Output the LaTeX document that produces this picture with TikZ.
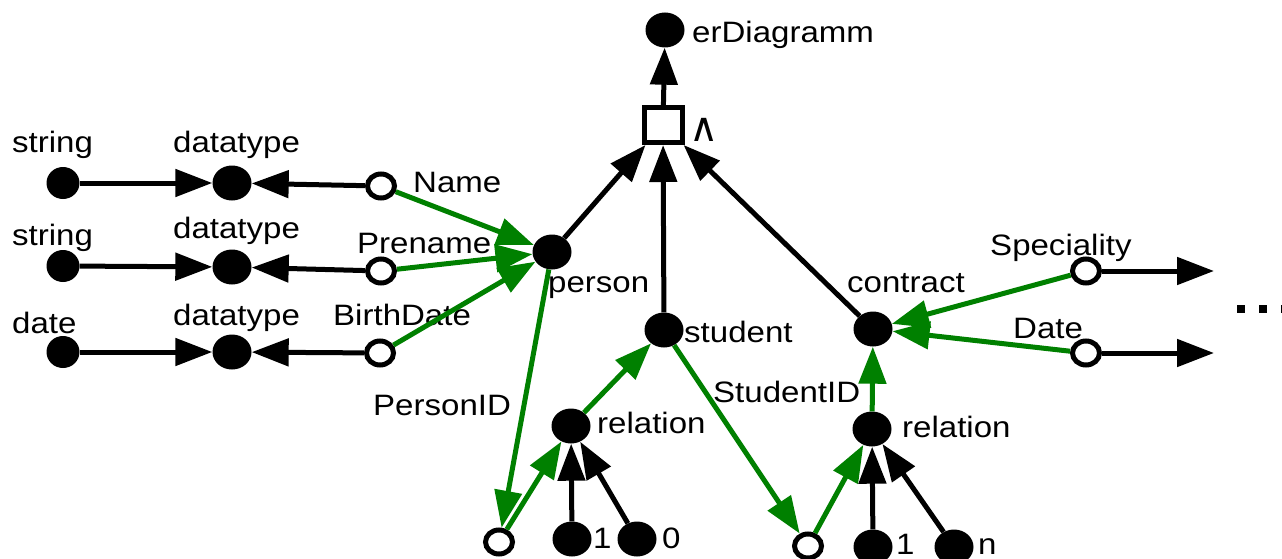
\documentclass[tikz,border=0pt]{standalone}
\usepackage{fontspec}
\newfontfamily\lbfont{Liberation Sans}[FakeStretch=1.12]
\newfontfamily\djv{DejaVu Sans}
\usetikzlibrary{arrows.meta,shapes.geometric}
\definecolor{gr}{RGB}{0,128,0}
\begin{document}
\begin{tikzpicture}[x=1pt,y=-1pt,
  big/.style={ellipse,fill=black,inner sep=0pt,minimum width=39pt,minimum height=35pt},
  small/.style={ellipse,fill=black,inner sep=0pt,minimum width=33pt,minimum height=32pt},
  open/.style={ellipse,draw=black,fill=white,line width=5pt,inner sep=0pt,minimum width=27pt,minimum height=24pt},
  andbox/.style={rectangle,draw=black,line width=5pt,inner sep=0pt,minimum width=38pt,minimum height=35pt},
  lbl/.style={inner sep=0pt,anchor=base west,font=\lbfont\fontsize{29.5}{32}\selectfont},
  blk/.style={draw=black,line width=5pt,-{Triangle[length=37pt,width=27pt]}},
  grn/.style={blk,draw=gr},
  dotsq/.style={fill=black,inner sep=0pt,minimum size=8pt,rectangle}
]
\useasboundingbox (0,0) rectangle (1282,559);
% top
\node[big] (erd) at (665,30) {};
\node[lbl] (erdl) at (692,43) {erDiagramm};
\node[andbox] (and) at (663,125) {};
\node[inner sep=0pt,font=\djv\fontsize{40}{44}\selectfont] (andl) at (704,130) {∧};
\node[big] (person) at (552,252) {};
\node[lbl] (personl) at (548,292) {person};
\node[big] (student) at (664,330) {};
\node[lbl] (studentl) at (684,342) {student};
\node[big] (contract) at (873,329) {};
\node[lbl] (contractl) at (847,292) {contract};
% left rows
\node[small] (s1) at (63,183) {};
\node[big] (d1) at (232,183) {};
\node[open] (o1) at (381,186) {};
\node[small] (s2) at (63,266) {};
\node[big] (d2) at (232,267) {};
\node[open] (o2) at (381,271) {};
\node[small] (s3) at (63,352) {};
\node[big] (d3) at (232,352) {};
\node[open] (o3) at (380,353) {};
\node[lbl] (s1l) at (12,153) {string};
\node[lbl] (d1l) at (173,153) {datatype};
\node[lbl] (o1l) at (413,192) {Name};
\node[lbl] (s2l) at (12,245) {string};
\node[lbl] (d2l) at (173,238) {datatype};
\node[lbl] (o2l) at (357,253) {Prename};
\node[lbl] (s3l) at (12,333) {date};
\node[lbl] (d3l) at (173,325) {datatype};
\node[lbl] (o3l) at (333,325) {BirthDate};
% bottom
\node[open] (pid) at (499,542) {};
\node[lbl] (pidl) at (373,415) {PersonID};
\node[big] (r1) at (571,426) {};
\node[lbl] (r1l) at (597,433) {relation};
\node[big] (v1) at (572,539) {};
\node[lbl] (v1l) at (593,548) {1};
\node[big] (v0) at (637,539) {};
\node[lbl] (v0l) at (662,548) {0};
\node[open] (sid) at (808,546) {};
\node[lbl] (sidl) at (713,402) {StudentID};
\node[big] (r2) at (872,429) {};
\node[lbl] (r2l) at (902,437) {relation};
\node[big] (w1) at (873,547) {};
\node[lbl] (w1l) at (896,554) {1};
\node[big] (wn) at (954,547) {};
\node[lbl] (wnl) at (978,554) {n};
% right
\node[open] (sp) at (1086,271) {};
\node[lbl] (spl) at (990,255) {Speciality};
\node[open] (dt) at (1086,353) {};
\node[lbl] (dtl) at (1013,338) {Date};
\coordinate (spe) at (1214,271);
\coordinate (dte) at (1214,353);
\node[dotsq] (q1) at (1241,309) {};
\node[dotsq] (q2) at (1263,309) {};
\node[dotsq] (q3) at (1285,309) {};
% black edges
\draw[blk] (s1) -- (d1);
\draw[blk] (o1) -- (d1);
\draw[blk] (s2) -- (d2);
\draw[blk] (o2) -- (d2);
\draw[blk] (s3) -- (d3);
\draw[blk] (o3) -- (d3);
\draw[blk] (person) -- (and);
\draw[blk] (student) -- (and);
\draw[blk] (contract) -- (and);
\draw[blk] (and) -- (erd);
\draw[blk] (v1) -- (r1);
\draw[blk] (v0) -- (r1);
\draw[blk] (w1) -- (r2);
\draw[blk] (wn) -- (r2);
\draw[blk] (sp) -- (spe);
\draw[blk] (dt) -- (dte);
% green edges
\draw[grn] (o1) -- (person);
\draw[grn] (o2) -- (person);
\draw[grn] (o3) -- (person);
\draw[grn] (person) -- (pid);
\draw[grn] (pid) -- (r1);
\draw[grn] (r1) -- (student);
\draw[grn] (student) -- (sid);
\draw[grn] (sid) -- (r2);
\draw[grn] (r2) -- (contract);
\draw[grn] (sp) -- (contract);
\draw[grn] (dt) -- (contract);
\end{tikzpicture}
\end{document}
